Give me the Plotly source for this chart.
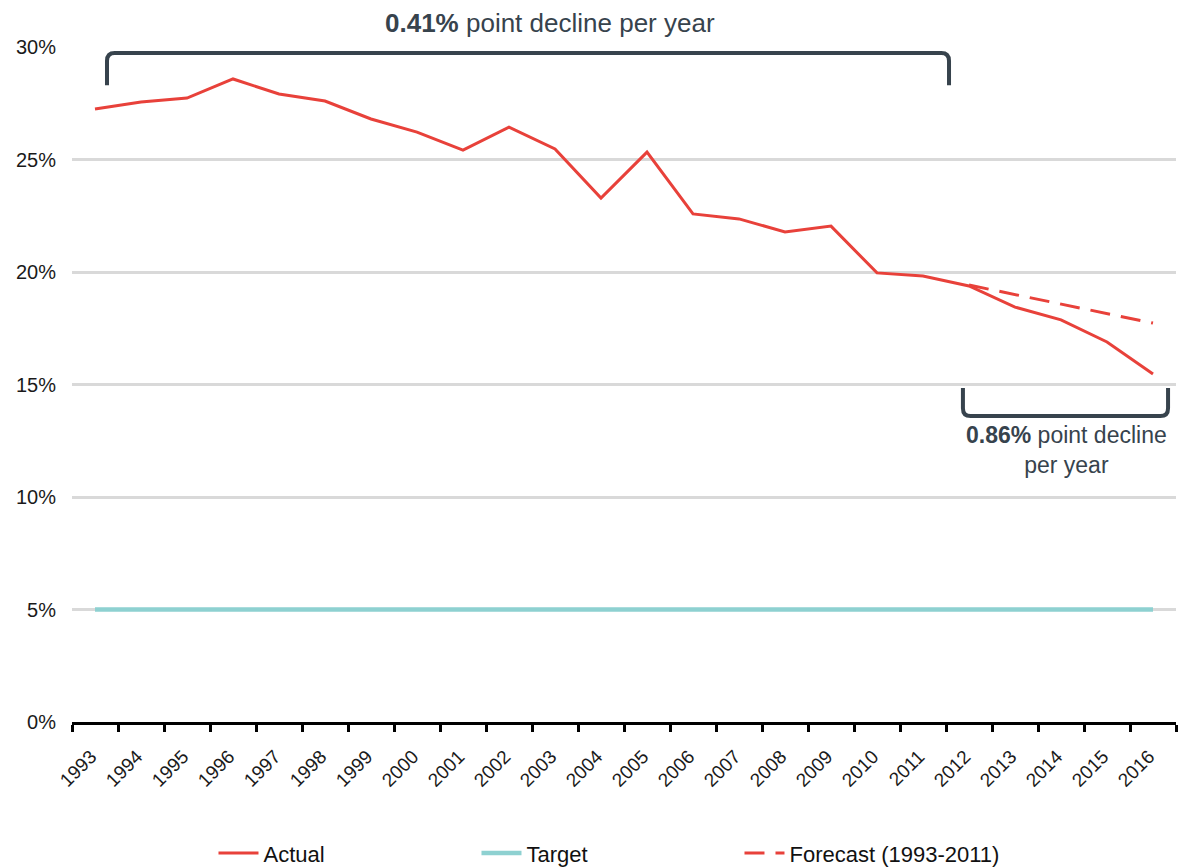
import plotly.graph_objects as go

# --- Data ---
years = [str(y) for y in range(1993, 2017)]
actual = [27.24, 27.56, 27.73, 28.58, 27.91, 27.60, 26.80, 26.22, 25.42, 26.44,
          25.47, 23.29, 25.33, 22.58, 22.36, 21.78, 22.04, 19.96, 19.82, 19.38,
          18.44, 17.87, 16.89, 15.47]
target = [5.0] * len(years)
forecast_years = ["2012", "2013", "2014", "2015", "2016"]
forecast = [19.42, 19.00, 18.58, 18.16, 17.73]

RED = "#e8413a"
TEAL = "#8ed1d1"
DARK = "#37434d"
FONT = "Liberation Sans"

fig = go.Figure()

fig.add_trace(go.Scatter(x=years, y=actual, name="Actual", mode="lines",
                         line=dict(color=RED, width=3)))
fig.add_trace(go.Scatter(x=years, y=target, name="Target", mode="lines",
                         line=dict(color=TEAL, width=4.5)))
fig.add_trace(go.Scatter(x=forecast_years, y=forecast, name="Forecast (1993-2011)",
                         mode="lines", line=dict(color=RED, width=3, dash="20px,11px")))


# --- Brackets (paper x, data y) ---
def bracket(x0, x1, y_leg, y_bar, r=0.007, ry=0.35):
    s = 1 if y_bar > y_leg else -1
    return (f"M {x0},{y_leg} L {x0},{y_bar - s * ry} Q {x0},{y_bar} {x0 + r},{y_bar} "
            f"L {x1 - r},{y_bar} Q {x1},{y_bar} {x1},{y_bar - s * ry} L {x1},{y_leg}")


fig.add_shape(type="path", xref="paper", yref="y",
              path=bracket(0.0317, 0.7944, 28.3, 29.73),
              line=dict(color=DARK, width=4))
fig.add_shape(type="path", xref="paper", yref="y",
              path=bracket(0.807, 0.9928, 14.84, 13.6),
              line=dict(color=DARK, width=4))

fig.add_annotation(x=0.433, xref="paper", y=1.036, yref="paper",
                   xanchor="center", yanchor="middle",
                   text="<b>0.41%</b> point decline per year", showarrow=False,
                   font=dict(size=26, color=DARK, family=FONT))
fig.add_annotation(x=0.901, xref="paper", y=12.1, yref="y",
                   xanchor="center", yanchor="middle",
                   text="<b>0.86%</b> point decline<br>per year", showarrow=False,
                   align="center", font=dict(size=23, color=DARK, family=FONT))

# page body adds an 8px offset, so the figure is a bit smaller than the window
fig.update_layout(
    width=1192, height=859,
    margin=dict(l=64, r=24, t=39, b=145, autoexpand=False),
    plot_bgcolor="white", paper_bgcolor="white",
    font=dict(family=FONT, size=19, color="#1a1a1a"),
    showlegend=True,
    legend=dict(orientation="h", x=0.4855, xanchor="center",
                yref="container", y=0.016, yanchor="middle",
                font=dict(size=22, family=FONT, color="#111111"),
                entrywidth=208, itemwidth=40),
)
fig.update_xaxes(type="category", range=[-0.5, len(years) - 0.5], tickangle=-45,
                 showgrid=False, automargin=False,
                 showline=True, linecolor="black", linewidth=3,
                 ticks="outside", tickson="boundaries", ticklen=7, tickwidth=3,
                 tickcolor="black", tickfont=dict(size=19), ticklabelstandoff=13,
                 ticklabelshift=-4)
fig.update_yaxes(range=[0, 30], dtick=5, ticksuffix="%", showgrid=True, automargin=False,
                 gridcolor="#d9d9d9", gridwidth=3, zeroline=False, showline=False,
                 ticks="outside", ticklen=11, tickcolor="rgba(0,0,0,0)",
                 tickfont=dict(size=20))

fig.write_html("out.html")
